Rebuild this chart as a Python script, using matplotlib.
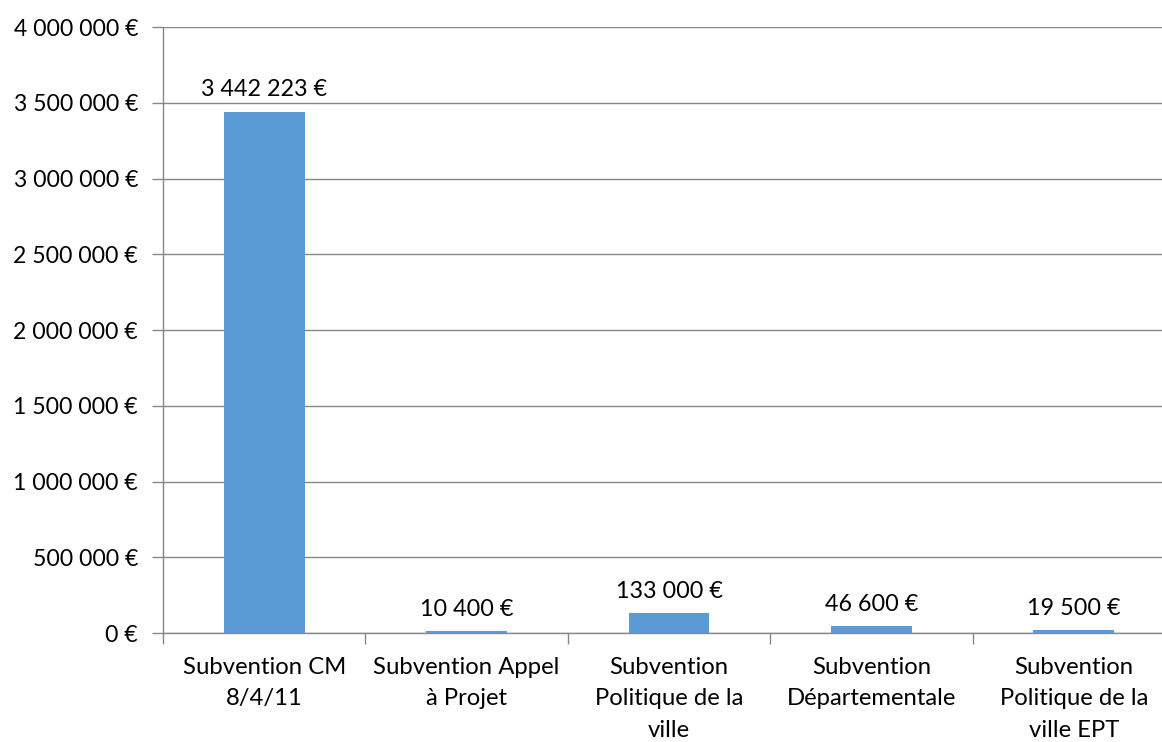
import matplotlib.pyplot as plt
from matplotlib.ticker import FuncFormatter

plt.rcParams['font.family'] = ['Lato', 'DejaVu Sans']

categories = ["Subvention CM\n8/4/11", "Subvention Appel\nà Projet",
              "Subvention\nPolitique de la\nville", "Subvention\nDépartementale",
              "Subvention\nPolitique de la\nville EPT"]
values = [3442223, 10400, 133000, 46600, 19500]

bar_color = "#5B9BD5"
grid_color = "#878787"


def euro(v, pos=None):
    s = f"{int(round(v)):,}".replace(",", " ")
    return s + " €"


fig = plt.figure(figsize=(11.62, 7.42), dpi=100)
# plot area: left 163px, right ~1175px (cropped), top 27px, bottom 633px
ax = fig.add_axes([163 / 1162, 1 - 633 / 742, (1175 - 163) / 1162, (633 - 27) / 742])

x = list(range(len(values)))
ax.bar(x, values, width=0.4, color=bar_color, zorder=3)

for xi, v in zip(x, values):
    ax.annotate(euro(v), (xi, v), xytext=(0, 8), textcoords="offset points",
                ha="center", va="bottom", fontsize=16.8, color="black")

ax.set_xlim(-0.5, len(values) - 0.5)
ax.set_ylim(0, 4000000)
ax.set_yticks(range(0, 4000001, 500000))
ax.yaxis.set_major_formatter(FuncFormatter(euro))
ax.yaxis.grid(True, color=grid_color, linewidth=1, zorder=0)

ax.set_xticks([i + 0.5 for i in range(-1, len(values))], minor=False)
ax.set_xticklabels([])
ax.set_xticks(x, minor=True)
ax.set_xticklabels(categories, minor=True, fontsize=17.2, linespacing=1.62, va="top")
ax.tick_params(axis="x", which="minor", length=0, pad=17)
ax.tick_params(axis="x", which="major", length=8, color=grid_color, width=1)
ax.tick_params(axis="y", length=8, color=grid_color, width=1, labelsize=16.6, pad=10)

for side in ["top", "right"]:
    ax.spines[side].set_visible(False)
for side in ["left", "bottom"]:
    ax.spines[side].set_color(grid_color)
    ax.spines[side].set_linewidth(1)

fig.savefig("out.png", dpi=100)
